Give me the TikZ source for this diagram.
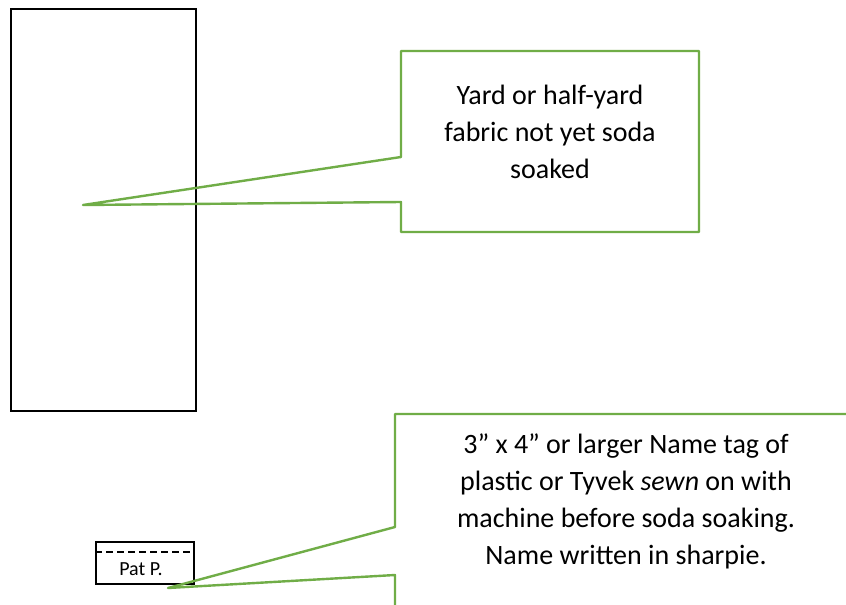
\documentclass[tikz,border=0pt]{standalone}
\usepackage{fontspec}
\setmainfont{Carlito}
\definecolor{callgreen}{HTML}{70AD47}
\begin{document}
\begin{tikzpicture}[x=1pt,y=-1pt,
  fabric/.style={draw=black,line width=1.2pt,inner sep=0pt},
  callout/.style={draw=callgreen,line width=2.4pt,line join=round},
  calltext/.style={align=center,font=\fontsize{28}{37}\selectfont,inner sep=0pt},
  tagbox/.style={draw=black,line width=1.2pt,inner sep=0pt}]
\clip (0,0) rectangle (846,605);
\fill[white] (0,0) rectangle (846,605);
% fabric
\node[fabric,minimum width=185pt,minimum height=402pt] (fabric) at (103.5,210) {};
% name tag
\node[tagbox,minimum width=98pt,minimum height=42pt] (tag) at (145,563) {};
\draw[dashed,dash pattern=on 7pt off 4pt,line width=1.2pt] (tag.west |- 0,552) coordinate (dl) -- (tag.east |- 0,552) coordinate (dr);
\node[font=\fontsize{20}{22}\selectfont,inner sep=0pt] (tagtext) at (141,569) {Pat P.};
% callout 1
\coordinate (tip1) at (83,205);
\coordinate (c1a) at (401,157);
\coordinate (c1b) at (401,202);
\draw[callout] (c1a) -- (tip1) -- (c1b) -- (401,232) -- (699,232) -- (699,51) -- (401,51) -- cycle;
\node[calltext] (t1) at (550,132) {Yard or half-yard\\fabric not yet soda\\soaked};
% callout 2
\coordinate (tip2) at (168,588);
\coordinate (c2a) at (395,527);
\coordinate (c2b) at (395,575);
\draw[callout] (395,620) -- (c2b) -- (tip2) -- (c2a) -- (395,414) -- (870,414);
\node[calltext] (t2) at (626,501) {3” x 4” or larger Name tag of\\plastic or Tyvek \textit{sewn} on with\\machine before soda soaking.\\Name written in sharpie.};
\end{tikzpicture}
\end{document}
